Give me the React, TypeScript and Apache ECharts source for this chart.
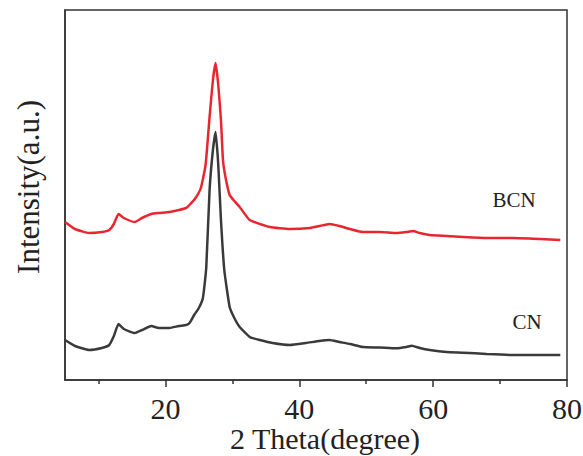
import React, { useEffect, useRef } from "react";
import * as echarts from "echarts";

const theta = [5, 6.5, 8.6, 10.5, 11.6, 12.3, 13, 13.8, 15.4, 16.5, 17.9, 19, 20.6, 22, 23.1, 23.6, 24.3, 25, 25.6, 26.1, 26.6, 27.1, 27.5, 27.9, 28.3, 28.8, 29.6, 30.3, 31.1, 32.6, 34.1, 36, 38.6, 41, 43, 44.5, 46, 47.6, 49.5, 52, 54.5, 56, 56.8, 58, 59.5, 62, 64.5, 68, 72, 76, 79];
const cnValues = [40, 34, 30, 32, 35, 44, 56, 51, 47, 50, 54, 52, 52, 54, 55, 57, 65, 72, 82, 112, 190, 230, 248, 215, 160, 110, 73, 62, 53, 43, 40, 37, 35, 37, 39, 40, 38, 36, 33, 32.5, 31.7, 33, 34.3, 32, 30, 28, 27.3, 26, 25, 25, 25];

const thetaB = [5, 6.5, 8.6, 10.5, 11.6, 12.3, 13, 13.8, 15.4, 16.5, 17.9, 19, 20.6, 22, 23.1, 23.6, 24.5, 25.3, 26, 26.6, 27.1, 27.5, 27.9, 28.3, 28.6, 29, 29.6, 30.3, 31.1, 32.6, 35.6, 38.6, 41.6, 43, 44.5, 46, 47.6, 49.5, 52, 54.5, 56, 57, 58, 59.5, 62, 64.5, 68, 72, 76, 79];
const bcnValues = [158, 151, 147, 148, 150, 156, 166, 162, 158, 162, 166, 167, 168, 170, 172, 175, 182, 192, 215, 263, 300, 317, 295, 260, 220, 202, 185, 179, 173, 160, 153, 151, 152, 154, 156, 154, 151, 148, 148, 147, 148, 149, 147, 145, 144, 143, 142, 142, 141, 140];

const majorTicks = [20, 40, 60, 80];
const minorTicks = [10, 30, 50, 70];

const FONT = "Liberation Serif";

export default function App() {
  const ref = useRef<HTMLDivElement>(null);
  useEffect(() => {
    if (!ref.current) return;
    const chart = echarts.init(ref.current, undefined, { renderer: "svg" });
    chart.setOption({
      animation: false,
      backgroundColor: "#fff",
      grid: {
        left: 65, right: 16, top: 10, bottom: 76,
        containLabel: false, outerBoundsMode: "none",
        show: true, borderColor: "#333", borderWidth: 1.5,
      },
      xAxis: [
        {
          type: "value",
          min: 5,
          max: 80,
          position: "bottom",
          axisLine: { show: true, lineStyle: { color: "#333", width: 1.5 } },
          axisTick: { show: true, inside: false, length: 7, customValues: majorTicks, lineStyle: { color: "#333", width: 1.5 } },
          axisLabel: { customValues: majorTicks, fontFamily: FONT, fontSize: 30, color: "#222", margin: 13 },
          splitLine: { show: false },
        },
        {
          type: "value",
          min: 5,
          max: 80,
          position: "bottom",
          offset: 0,
          axisLine: { show: false },
          axisTick: { show: true, inside: false, length: 4, customValues: minorTicks, lineStyle: { color: "#333", width: 1.5 } },
          axisLabel: { show: false },
          splitLine: { show: false },
        },
      ],
      yAxis: {
        type: "value",
        min: 0,
        max: 370,
        axisLine: { show: true, lineStyle: { color: "#333", width: 1.5 } },
        axisTick: { show: false },
        axisLabel: { show: false },
        splitLine: { show: false },
      },
      graphic: [
        { type: "text", x: 325, y: 438, style: { text: "2 Theta(degree)", fontFamily: FONT, fontSize: 30, fill: "#222", align: "center", verticalAlign: "middle" } },
        { type: "text", x: 28, y: 187, rotation: Math.PI / 2, style: { text: "Intensity(a.u.)", fontFamily: FONT, fontSize: 31, fill: "#222", align: "center", verticalAlign: "middle" } },
        { type: "text", x: 514, y: 200, style: { text: "BCN", fontFamily: FONT, fontSize: 21, fill: "#222", align: "center", verticalAlign: "middle" } },
        { type: "text", x: 527, y: 322, style: { text: "CN", fontFamily: FONT, fontSize: 21, fill: "#222", align: "center", verticalAlign: "middle" } },
      ],
      series: [
        {
          name: "CN",
          type: "line",
          showSymbol: false,
          smooth: 0.15,
          data: theta.map((t, i) => [t, cnValues[i]]),
          lineStyle: { color: "#3a3a3a", width: 2.5 },
        },
        {
          name: "BCN",
          type: "line",
          showSymbol: false,
          smooth: 0.15,
          data: thetaB.map((t, i) => [t, bcnValues[i]]),
          lineStyle: { color: "#e8262f", width: 2.5 },
        },
      ],
    });
    return () => chart.dispose();
  }, []);
  return <div ref={ref} style={{ position: "fixed", left: 0, top: 0, width: 583, height: 456 }} />;
}
